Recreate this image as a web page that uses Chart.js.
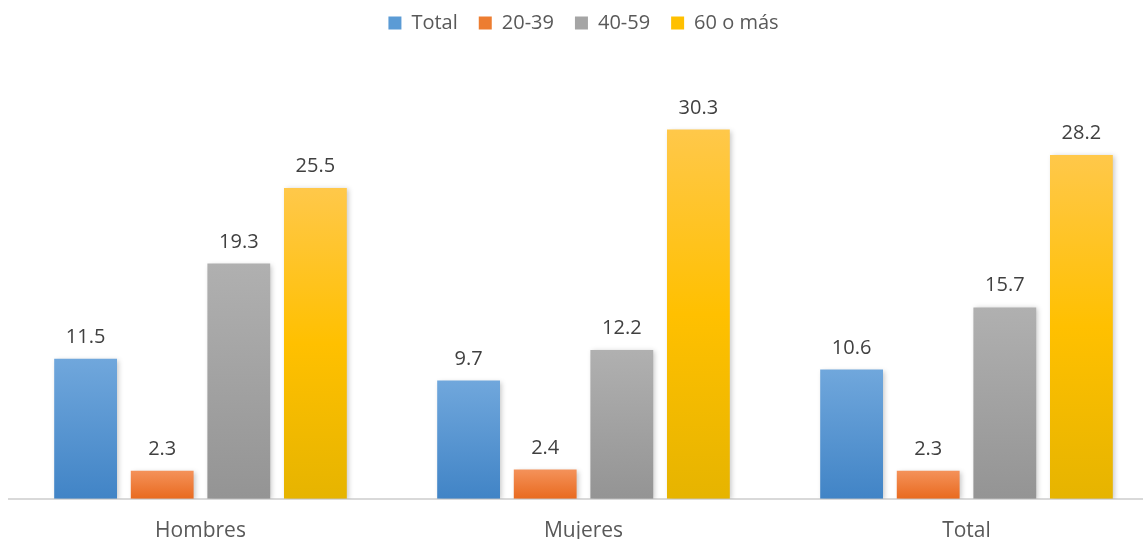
<!DOCTYPE html>
<html>
<head>
<meta charset="utf-8">
<script src="https://cdn.jsdelivr.net/npm/chart.js@4"></script>
<style>
  html, body { margin: 0; padding: 0; background: #fff; overflow: hidden; }
  #wrap { width: 1143px; height: 539px; overflow: hidden; }
</style>
</head>
<body>
<div id="wrap"><canvas id="myChart" width="1158" height="556"></canvas></div>
<script>
// Data
let categories = ['Hombres', 'Mujeres', 'Total'];
let seriesNames = ['Total', '20-39', '40-59', '60 o más'];
let totalValues = [11.5, 9.7, 10.6];
let age2039Values = [2.3, 2.4, 2.3];
let age4059Values = [19.3, 12.2, 15.7];
let age60Values = [25.5, 30.3, 28.2];

// gradient stops for each series (top -> bottom)
let gradColors = [
  ['#70a7dc', '#4184c6'],
  ['#f4925a', '#e96a1f'],
  ['#b0b0b0', '#949494'],
  ['#ffc84a', '#ffc000', '#e6b400']
];
let legendColors = ['#5b9bd5', '#ed7d31', '#a5a5a5', '#ffc000'];

function makeGradient(i) {
  return function (context) {
    let chart = context.chart;
    if (!chart.chartArea) return legendColors[i];
    let yScale = chart.scales.y;
    let top = yScale.getPixelForValue(context.raw || 0);
    let bottom = yScale.getPixelForValue(0);
    if (!isFinite(top) || top === bottom) return legendColors[i];
    let g = chart.ctx.createLinearGradient(0, top, 0, bottom);
    let stops = gradColors[i];
    stops.forEach(function (c, k) {
      g.addColorStop(k / (stops.length - 1), c);
    });
    return g;
  };
}

let allValues = [totalValues, age2039Values, age4059Values, age60Values];

// draws value above every bar
let valueLabels = {
  id: 'valueLabels',
  afterDatasetsDraw(chart) {
    let ctx = chart.ctx;
    ctx.save();
    ctx.font = '20px "Open Sans", sans-serif';
    ctx.fillStyle = '#404040';
    ctx.textAlign = 'center';
    ctx.textBaseline = 'alphabetic';
    chart.data.datasets.forEach(function (ds, i) {
      let meta = chart.getDatasetMeta(i);
      meta.data.forEach(function (bar, j) {
        ctx.fillText(ds.data[j].toFixed(1), bar.x, bar.y - 16);
      });
    });
    ctx.restore();
  }
};

// soft shadow behind bars
let barShadow = {
  id: 'barShadow',
  beforeDatasetsDraw(chart) {
    let ctx = chart.ctx;
    ctx.save();
    ctx.shadowColor = 'rgba(0,0,0,0.22)';
    ctx.shadowBlur = 5;
    ctx.shadowOffsetX = 2;
    ctx.shadowOffsetY = 1;
  },
  afterDatasetsDraw(chart) {
    chart.ctx.restore();
  }
};

let ctx = document.getElementById('myChart').getContext('2d');
// eslint-disable-next-line no-undef
let myChart = new Chart(ctx, {
  type: 'bar',
  data: {
    labels: categories,
    datasets: seriesNames.map(function (name, i) {
      return {
        label: name,
        data: allValues[i],
        backgroundColor: makeGradient(i),
        borderWidth: 0,
        categoryPercentage: 0.80,
        barPercentage: 0.82
      };
    })
  },
  options: {
    responsive: false,
    animation: false,
    layout: { padding: { left: 9, right: 0, top: -8, bottom: 0 } },
    plugins: {
      tooltip: { enabled: false },
      legend: {
        position: 'top',
        labels: {
          font: { family: '"Open Sans", sans-serif', size: 20 },
          color: '#595959',
          boxWidth: 13,
          boxHeight: 13,
          padding: 21,
          generateLabels: function (chart) {
            return seriesNames.map(function (name, i) {
              return {
                text: name,
                fillStyle: legendColors[i],
                strokeStyle: legendColors[i],
                lineWidth: 0,
                fontColor: '#595959',
                datasetIndex: i
              };
            });
          }
        }
      }
    },
    scales: {
      x: {
        grid: { display: false },
        border: { display: true, color: '#d9d9d9', width: 2 },
        ticks: {
          font: { family: '"Open Sans", sans-serif', size: 21 },
          color: '#595959',
          padding: 12
        }
      },
      y: {
        display: false,
        min: 0,
        max: 37.4
      }
    }
  },
  plugins: [barShadow, valueLabels]
});
</script>
</body>
</html>
